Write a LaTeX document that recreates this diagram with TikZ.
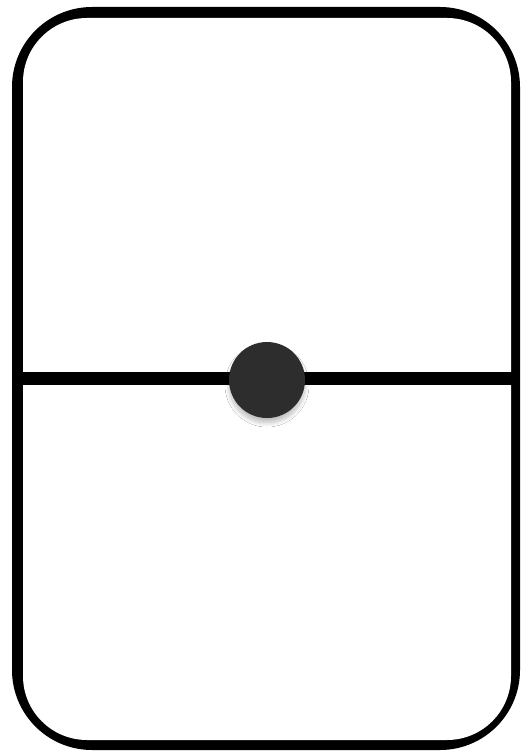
\documentclass[tikz,border=0pt]{standalone}
\usetikzlibrary{shadows.blur}
\definecolor{pip}{RGB}{45,45,45}
\begin{document}
\begin{tikzpicture}[x=1pt,y=-1pt,
  frameout/.style={fill=black},
  framein/.style={fill=white},
  divider/.style={line width=13pt,draw=black},
  pipdot/.style={circle,fill=pip,minimum size=76pt,inner sep=0pt,blur shadow={shadow xshift=0pt,shadow yshift=-5pt,shadow blur radius=4pt,shadow blur steps=10,shadow opacity=25}}]
\useasboundingbox (0,0) rectangle (523,752);
\fill[white] (0,0) rectangle (523,752);
\fill[frameout,rounded corners=80pt] (12,7) rectangle (520,750);
\fill[framein,rounded corners=64pt] (23,18) rectangle (511,740);
\coordinate (l) at (22,378);
\coordinate (r) at (512,378);
\draw[divider] (l) -- (r);
\node[pipdot] (p) at (267,380) {};
\end{tikzpicture}
\end{document}
